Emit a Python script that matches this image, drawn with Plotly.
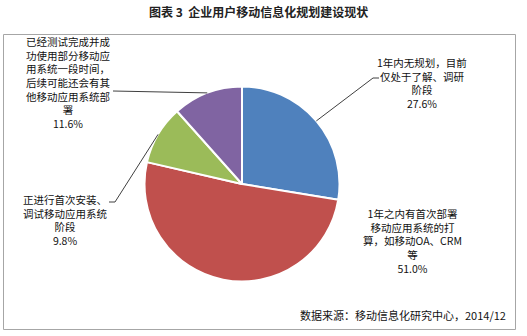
import math
import plotly.graph_objects as go

# ---- data ----
categories = [
    "1年内无规划，目前仅处于了解、调研阶段",
    "1年之内有首次部署移动应用系统的打算，如移动OA、CRM等",
    "正进行首次安装、调试移动应用系统阶段",
    "已经测试完成并成功使用部分移动应用系统一段时间，后续可能还会有其他移动应用系统部署",
]
values = [27.6, 51.0, 9.8, 11.6]
colors = ["#4F81BD", "#C0504D", "#9BBB59", "#8064A2"]
label_lines = [
    ["1年内无规划，目前", "仅处于了解、调研", "阶段"],
    ["1年之内有首次部署", "移动应用系统的打", "算，如移动OA、CRM", "等"],
    ["正进行首次安装、", "调试移动应用系统", "阶段"],
    ["已经测试完成并成", "功使用部分移动应", "用系统一段时间，", "后续可能还会有其", "他移动应用系统部", "署"],
]
title_text = "图表 3  企业用户移动信息化规划建设现状"
source_text = "数据来源：移动信息化研究中心，2014/12"

# ---- layout helpers (pixel geometry) ----
W, H = 527, 336
cx, cy, r = 242, 184, 97.5
FONT = "Noto Sans CJK SC, Noto Sans, sans-serif"

def px(x):
    return x / W

def py(y):
    return 1 - y / H

# label block placement: (center x, block center y)
label_pos = [(422, 83), (412, 240.5), (65, 219.5), (68, 82.5)]
# leader elbows (None = no leader line)
leaders = [[(373, 78), (379, 78)], None, [(115, 202), (109, 202)], [(113, 91)]]

fig = go.Figure()
fig.add_trace(go.Pie(
    labels=categories, values=values, sort=False, direction="clockwise", rotation=0,
    marker=dict(colors=colors, line=dict(color="white", width=2)),
    textinfo="none", hoverinfo="label+percent", showlegend=False,
    domain=dict(x=[px(cx - r), px(cx + r)], y=[py(cy + r), py(cy - r)]),
))

shapes = [dict(type="rect", xref="paper", yref="paper",
               x0=px(3.5), x1=px(515.5), y0=py(329.5), y1=py(34.5),
               line=dict(color="#A6A6A6", width=1), fillcolor="rgba(0,0,0,0)")]
annotations = []

total = sum(values)
cum = 0.0
for i, v in enumerate(values):
    theta = 2 * math.pi * (cum + v / 2) / total
    cum += v
    if leaders[i]:
        pts = [(cx + r * math.sin(theta), cy - r * math.cos(theta))] + leaders[i]
        for (x0, y0), (x1, y1) in zip(pts[:-1], pts[1:]):
            shapes.append(dict(type="line", xref="paper", yref="paper",
                               x0=px(x0), y0=py(y0), x1=px(x1), y1=py(y1),
                               line=dict(color="#404040", width=1)))
    lx, ly = label_pos[i]
    text = "<br>".join(label_lines[i] + [f"{v:.1f}%"])
    annotations.append(dict(x=px(lx), y=py(ly), xref="paper", yref="paper",
                            text=text, showarrow=False, align="center",
                            xanchor="center", yanchor="middle",
                            font=dict(family=FONT, size=10.5, color="#111111")))

annotations.append(dict(x=px(258), y=py(12), xref="paper", yref="paper",
                        text=f"<b>{title_text}</b>", showarrow=False,
                        xanchor="center", yanchor="middle",
                        font=dict(family=FONT, size=12, color="#222222")))
annotations.append(dict(x=px(508), y=py(315), xref="paper", yref="paper",
                        text=source_text, showarrow=False,
                        xanchor="right", yanchor="middle",
                        font=dict(family=FONT, size=11, color="#111111")))

fig.update_layout(width=W, height=H, margin=dict(l=0, r=0, t=0, b=0),
                  paper_bgcolor="white", plot_bgcolor="white",
                  shapes=shapes, annotations=annotations)
fig.write_html("out.html")
